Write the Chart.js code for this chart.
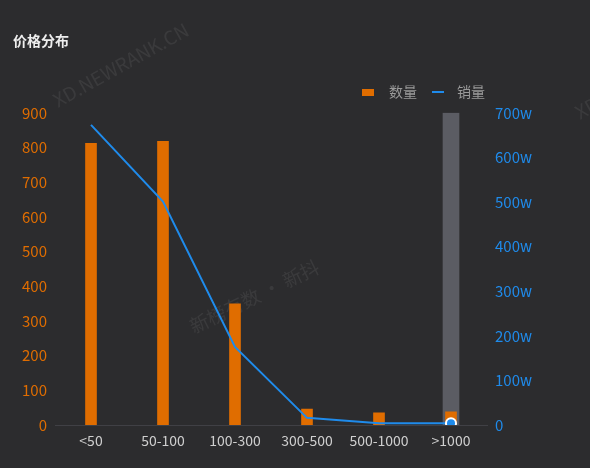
<!DOCTYPE html>
<html>
<head>
<meta charset="utf-8">
<script src="https://cdn.jsdelivr.net/npm/chart.js@4"></script>
<style>
  html, body { margin: 0; padding: 0; background: #2c2c2e; }
  #wrap { position: relative; width: 590px; height: 468px; }
</style>
</head>
<body>
<div id="wrap"><canvas id="priceChart" width="590" height="468"></canvas></div>
<script>
const categories = ['<50', '50-100', '100-300', '300-500', '500-1000', '>1000'];
const countValues = [812, 818, 349, 46, 35, 38];
const salesValues = [673, 501, 175, 16, 4, 4];   // 单位: w
const hoverShade = [null, null, null, null, null, 900];
const leftTicks = [0, 100, 200, 300, 400, 500, 600, 700, 800, 900];
const rightTicks = [0, 100, 200, 300, 400, 500, 600, 700];

const ORANGE = '#e06d00';
const BLUE = '#1f8beb';
const FONT = '"Noto Sans CJK SC", "Noto Sans", sans-serif';

// watermark text behind the bars
const watermark = {
    id: 'watermark',
    beforeDatasetsDraw(chart) {
        const ctx = chart.ctx;
        ctx.save();
        ctx.fillStyle = 'rgba(255,255,255,0.07)';
        ctx.font = '19px ' + FONT;
        const marks = [
            { text: 'XD.NEWRANK.CN', x: 58, y: 108, rot: -29 },
            { text: 'XD.NEWRANK.CN', x: 580, y: 120, rot: -29 },
            { text: '新榜有数 · 新抖', x: 194, y: 334, rot: -26 }
        ];
        marks.forEach(m => {
            ctx.save();
            ctx.translate(m.x, m.y);
            ctx.rotate(m.rot * Math.PI / 180);
            ctx.fillText(m.text, 0, 0);
            ctx.restore();
        });
        ctx.restore();
    }
};

// legend drawn at the top right
const topLegend = {
    id: 'topLegend',
    afterDraw(chart) {
        const ctx = chart.ctx;
        const y = 92;
        ctx.save();
        ctx.font = '14px ' + FONT;
        ctx.textBaseline = 'middle';
        ctx.fillStyle = ORANGE;
        ctx.fillRect(362, y - 3, 12, 7);
        ctx.fillStyle = '#9a9a9a';
        ctx.fillText(chart.data.datasets[0].label, 389, y);
        ctx.strokeStyle = BLUE;
        ctx.lineWidth = 2;
        ctx.beginPath();
        ctx.moveTo(432, y);
        ctx.lineTo(444, y);
        ctx.stroke();
        ctx.fillStyle = '#9a9a9a';
        ctx.fillText(chart.data.datasets[1].label, 457, y);
        ctx.restore();
    }
};

const ctx = document.getElementById('priceChart').getContext('2d');
new Chart(ctx, {
    type: 'bar',
    data: {
        labels: categories,
        datasets: [
            {
                label: '数量',
                data: countValues,
                backgroundColor: ORANGE,
                barThickness: 11,
                grouped: false,
                yAxisID: 'y',
                order: 2
            },
            {
                type: 'line',
                label: '销量',
                data: salesValues,
                borderColor: BLUE,
                backgroundColor: BLUE,
                borderWidth: 2,
                tension: 0,
                pointRadius: [0, 0, 0, 0, 0, 5],
                pointBackgroundColor: BLUE,
                pointBorderColor: '#ffffff',
                pointBorderWidth: 2,
                yAxisID: 'y1',
                order: 1
            },
            {
                label: 'shade',
                data: hoverShade,
                backgroundColor: '#5b5c63',
                barThickness: 16,
                grouped: false,
                yAxisID: 'y',
                order: 3
            }
        ]
    },
    options: {
        responsive: false,
        animation: false,
        layout: { padding: { left: 13, right: 0, top: 0, bottom: 0 } },
        plugins: {
            legend: { display: false },
            tooltip: { enabled: false },
            title: {
                display: true,
                text: '价格分布',
                align: 'start',
                color: '#eeeeee',
                font: { family: FONT, size: 14, weight: 'bold' },
                padding: { top: 32, bottom: 64 }
            }
        },
        scales: {
            x: {
                grid: { display: false, drawTicks: false },
                border: { display: true, color: '#404045', width: 1 },
                ticks: { color: '#cfcfcf', font: { family: FONT, size: 14 }, padding: 7 },
                afterFit: s => { s.height = 43; }
            },
            y: {
                position: 'left',
                min: 0,
                max: 900,
                afterBuildTicks: s => { s.ticks = leftTicks.map(v => ({ value: v })); },
                grid: { display: false, drawTicks: false },
                border: { display: false },
                ticks: { color: ORANGE, font: { family: FONT, size: 15 }, padding: 8 },
                afterFit: s => { s.width = 42; }
            },
            y1: {
                position: 'right',
                min: 0,
                max: 700,
                afterBuildTicks: s => { s.ticks = rightTicks.map(v => ({ value: v })); },
                grid: { display: false, drawTicks: false },
                border: { display: false },
                ticks: {
                    color: BLUE,
                    font: { family: FONT, size: 15 },
                    padding: 8,
                    callback: v => v === 0 ? '0' : v + 'w'
                },
                afterFit: s => { s.width = 103; }
            }
        }
    },
    plugins: [watermark, topLegend]
});
</script>
</body>
</html>
